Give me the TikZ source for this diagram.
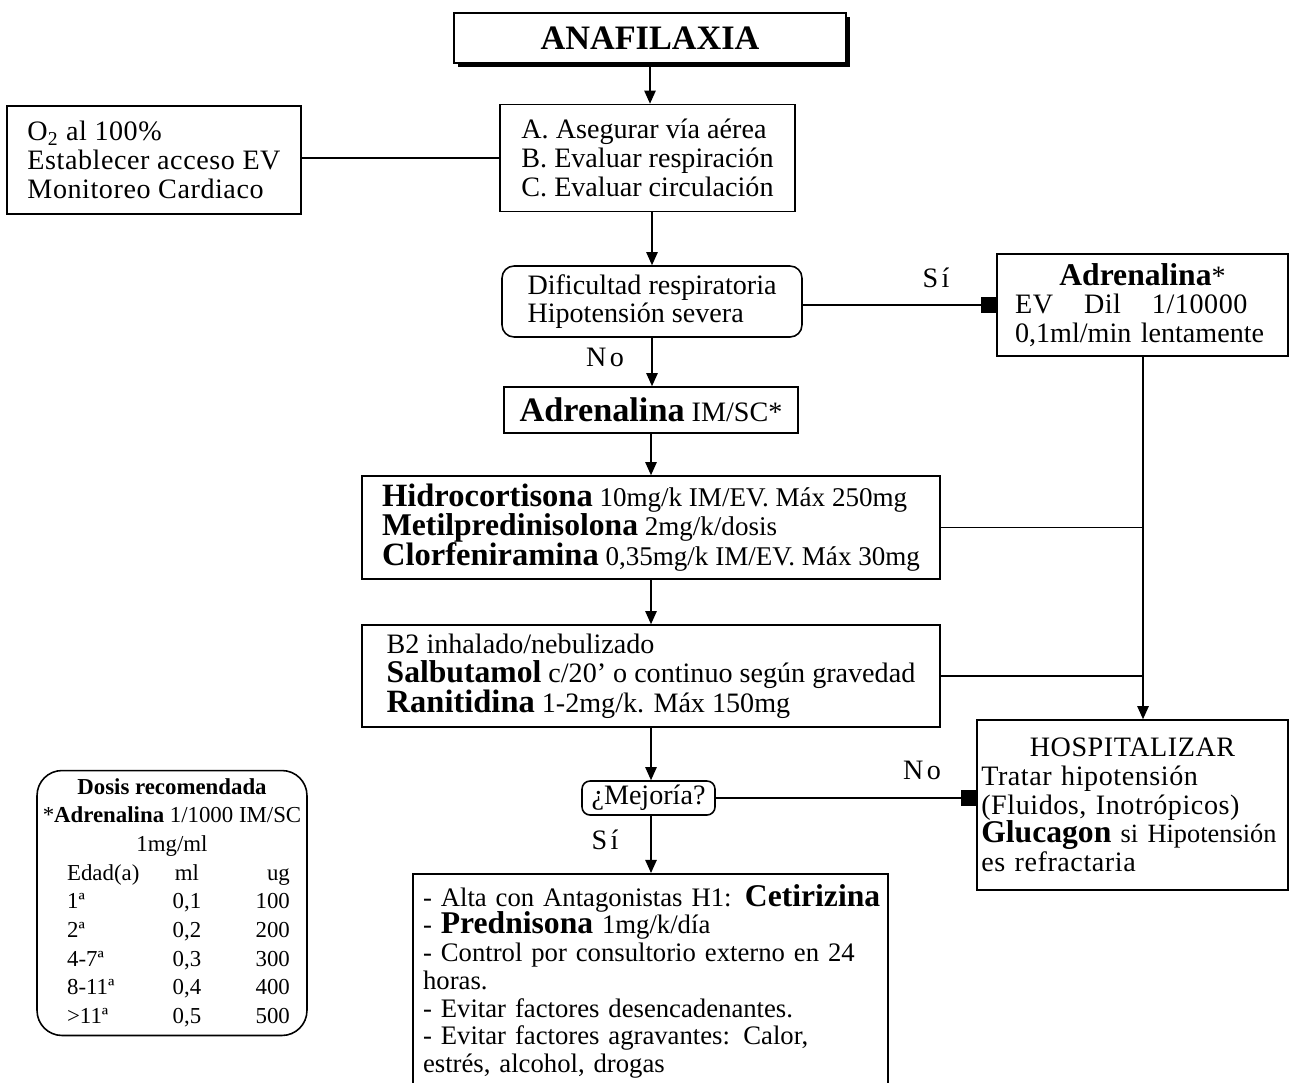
\documentclass[tikz,border=0pt]{standalone}
\usepackage{fontspec}
\usepackage{array}
\setmainfont{Liberation Serif}
\newfontfamily\wide[LetterSpace=12]{Liberation Serif}
\newfontfamily\loose[LetterSpace=2]{Liberation Serif}
\usetikzlibrary{arrows.meta,shadows}
\newcommand{\drug}[2][18]{{\fontsize{#1}{16.3}\selectfont\bfseries #2}}
\newcommand{\tightrows}{\lineskiplimit=0pt\lineskip=1pt\relax}
\lineskiplimit=-100pt
\tikzset{
  box/.style={draw, inner sep=0pt, align=left, font=\fontsize{16}{16.3}\selectfont},
  rbox/.style={box, rounded corners=0.24cm},
  tbox/.style={draw, inner sep=0pt, rounded corners=0.5cm, font=\fontsize{13}{16.3}\selectfont},
  tip/.style={-{Triangle[length=7.5pt,width=6.5pt]}},
  stop/.style={-{Square[length=8.5pt,width=9pt]}},
  lbl/.style={font=\wide\fontsize{16}{16}\selectfont},
}
\begin{document}
\begin{tikzpicture}[x=0.02cm, y=-0.02cm, line width=0.9pt]
\useasboundingbox (0,0) rectangle (1290,1082);

\node (title) at (650,38) [box, fill=white, minimum width=7.84cm, minimum height=1cm, font=\fontsize{19.5}{20}\selectfont\bfseries, drop shadow={shadow xshift=2.2pt, shadow yshift=-2.2pt, fill=black, opacity=1}] {ANAFILAXIA};
\node (abc) at (647.5,158) [box, minimum width=5.9cm, minimum height=2.14cm] {A. Asegurar vía aérea\\B. Evaluar respiración\\C. Evaluar circulación};
\node (o2) at (154,160) [box, minimum width=5.88cm, minimum height=2.16cm, font=\loose\fontsize{16}{16.3}\selectfont] {O\textsubscript{2} al 100\%\\Establecer acceso EV\\Monitoreo Cardiaco};
\node (dec) at (652,301.5) [rbox, minimum width=6cm, minimum height=1.42cm] {Dificultad respiratoria\\Hipotensión severa};
\node (adrev) at (1142.5,305) [box, minimum width=5.82cm, minimum height=2.04cm, text width=5.1cm] {\makebox[\linewidth]{\drug{Adrenalina}*}\\{\loose EV\hspace{1.1em}Dil\hspace{1.1em}1/10000}\\0,1ml/min lentamente};
\node (adrim) at (651,410) [box, minimum width=5.88cm, minimum height=0.92cm] {\drug[19.5]{Adrenalina} IM/SC*};
\node (hidro) at (651,527.5) [box, minimum width=11.56cm, minimum height=2.06cm, font=\fontsize{15.4}{17}\selectfont] {\drug[18.5]{Hidrocortisona} 10mg/k IM/EV. Máx 250mg\\\drug{Metilpredinisolona} 2mg/k/dosis\\\drug[18.5]{Clorfeniramina} 0,35mg/k IM/EV. Máx 30mg};
\node (b2) at (651,676) [box, minimum width=11.56cm, minimum height=2.04cm, font=\fontsize{16}{16.8}\selectfont] {B2 inhalado/nebulizado\\\drug{Salbutamol} c/20’ o continuo según gravedad\\\drug[18.5]{Ranitidina} 1-2mg/k. Máx 150mg};
\node (mej) at (648.5,798) [rbox, rounded corners=0.16cm, minimum width=2.66cm, minimum height=0.68cm] {¿Mejoría?};
\node (hosp) at (1132.5,805) [box, minimum width=6.22cm, minimum height=3.4cm, text width=6.05cm] {\makebox[\linewidth]{\loose HOSPITALIZAR}\\{\loose Tratar hipotensión}\\{\loose (Fluidos, Inotrópicos)}\\\mbox{\drug{Glucagon} {\fontsize{15}{16.3}\selectfont si Hipotensión}}\\{\loose es refractaria}};
\node (alta) at (650.5,873) [box, anchor=north, minimum width=9.5cm, minimum height=4.3cm, text width=9.1cm, font=\fontsize{15.2}{15.8}\selectfont] {\mbox{- Alta con Antagonistas H1: \drug{Cetirizina}}\\- \drug{Prednisona} 1mg/k/día\\\makebox[\linewidth][s]{- Control por consultorio externo en 24}\\horas.\\- Evitar factores desencadenantes.\\- Evitar factores agravantes: Calor,\\estrés, alcohol, drogas};
\node (dosis) at (172,903) [tbox, minimum width=5.4cm, minimum height=5.3cm] {\tightrows
\begin{tabular}{@{\hspace{7.4pt}}p{50pt}@{}>{\centering\arraybackslash}p{36.4pt}@{}>{\raggedleft\arraybackslash}p{40.4pt}@{}}
\multicolumn{3}{@{}c@{}}{\bfseries Dosis recomendada}\\
\multicolumn{3}{@{}c@{}}{\makebox[129pt]{*\textbf{Adrenalina} 1/1000 IM/SC}}\\
\multicolumn{3}{@{}c@{}}{1mg/ml}\\
Edad(a) & ml & ug\\
1ª & 0,1 & 100\\
2ª & 0,2 & 200\\
4-7ª & 0,3 & 300\\
8-11ª & 0,4 & 400\\
>11ª & 0,5 & 500
\end{tabular}};

\coordinate (trunk) at (1143,0);
\draw[tip] (title.south) -- (abc.north -| title.south);
\draw (o2.east |- abc.west) -- (abc.west);
\draw[tip] (dec.north |- abc.south) -- (dec.north);
\draw[stop] (dec.east |- adrev.west) -- (adrev.west);
\draw[tip] (dec.south) -- (adrim.north -| dec.south);
\draw[tip] (adrim.south) -- (hidro.north -| adrim.south);
\draw[tip] (hidro.south) -- (b2.north -| hidro.south);
\draw[tip] (b2.south) -- (mej.north -| b2.south);
\draw[stop] (mej.east) -- (mej.east -| hosp.west);
\draw[tip] (mej.south -| b2.south) -- (alta.north -| b2.south);
\draw[tip] (adrev.south -| trunk) -- (hosp.north -| trunk);
\draw (hidro.east) -- (hidro.east -| trunk);
\draw (b2.east) -- (b2.east -| trunk);

\node (si1) at (936,278) [lbl] {Sí};
\node (no1) at (605,357) [lbl] {No};
\node (no2) at (922,770) [lbl] {No};
\node (si2) at (605,840) [lbl] {Sí};
\end{tikzpicture}
\end{document}
